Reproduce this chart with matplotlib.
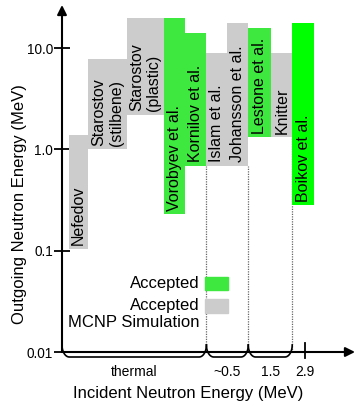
import numpy as np
import matplotlib
matplotlib.use("Agg")
import matplotlib.pyplot as plt
from matplotlib.patches import Rectangle
from matplotlib.transforms import blended_transform_factory

plt.rcParams["font.family"] = ["Liberation Sans", "DejaVu Sans"]

# ---------------------------------------------------------------------------
# data
# ---------------------------------------------------------------------------
studies = ["Nefedov", "Starostov\n(stilbene)", "Starostov\n(plastic)",
           "Vorobyev et al.", "Kornilov et al.", "Islam et al.",
           "Johansson et al.", "Lestone et al.", "Knitter", "Boikov et al."]
e_out_low = [0.105, 1.0, 2.2, 0.23, 0.69, 0.69, 0.69, 1.31, 1.31, 0.28]
e_out_high = [1.38, 7.8, 20.0, 20.0, 14.0, 8.9, 17.7, 15.7, 8.9, 17.7]
group = ["gray", "gray", "gray", "green", "green", "gray",
         "gray", "green", "gray", "mcnp"]

incident_labels = ["thermal", "~0.5", "1.5", "2.9"]
legend_labels = ["Accepted", "Accepted", "MCNP Simulation"]

# layout (notional x axis, no physical scale)
bar_edges = [0.35, 1.25, 3.1, 4.85, 5.9, 6.9, 7.9, 8.9, 10.0, 11.0, 12.05]
brace_spans = [(0.0, 6.9), (6.9, 8.9), (8.9, 11.0)]
tick_29 = 11.6

colors = {"gray": "#cccccc", "green": "#3ee83e", "mcnp": "#00ff00"}

fig = plt.figure(figsize=(3.59, 4.12), dpi=100)
ax = fig.add_axes([62 / 359, 60 / 412, 293 / 359, 347 / 412])
ax.set_yscale("log")
ax.set_xlim(0, 14)
ax.set_ylim(0.01, 10 ** 1.425)

left = np.array(bar_edges[:-1])
width = np.diff(bar_edges)
low = np.array(e_out_low)
high = np.array(e_out_high)
ax.bar(left, high - low, bottom=low, width=width, align="edge",
       color=[colors[g] for g in group], linewidth=0, zorder=2)

for x, w, lo, name in zip(left, width, low, studies):
    ax.annotate(name, (x + w / 2, lo), xytext=(0, 2.5), textcoords="offset points",
                rotation=90, ha="center", va="bottom", fontsize=11.5,
                multialignment="left", zorder=3)

# dotted separators between incident energy groups
ax.vlines([6.9, 8.9, 11.0], 0.01, [0.69, 0.69, 1.31], colors="#666666",
          linestyles=(0, (1, 1)), linewidth=0.9, zorder=1)

# axes drawn as arrows
for s in ax.spines.values():
    s.set_visible(False)
ax.annotate("", xy=(0, 1), xytext=(0, 0), xycoords="axes fraction",
            arrowprops=dict(arrowstyle="-|>", color="black", lw=1.5,
                            mutation_scale=14, shrinkA=0, shrinkB=0))
ax.annotate("", xy=(1, 0), xytext=(0, 0), xycoords="axes fraction",
            arrowprops=dict(arrowstyle="-|>", color="black", lw=1.5,
                            mutation_scale=14, shrinkA=0, shrinkB=0))

ax.set_yticks([0.01, 0.1, 1, 10])
ax.set_yticklabels(["0.01", "0.1", "1.0", "10.0"])
ax.yaxis.set_minor_locator(matplotlib.ticker.NullLocator())
ax.tick_params(axis="y", direction="inout", length=11, width=1.3, labelsize=9.8, pad=1)
ax.set_xticks([])

ax.set_ylabel("Outgoing Neutron Energy (MeV)", fontsize=12)
ax.set_xlabel("Incident Neutron Energy (MeV)", fontsize=12)
ax.yaxis.set_label_coords(-0.119, 0.4265)
ax.xaxis.set_label_coords(0.43, -0.098)

# braces under the x axis
trans = blended_transform_factory(ax.transData, ax.transAxes)
up, dn, r = 7 / 347, 5 / 347, 0.35
t = np.linspace(0, np.pi / 2, 20)
for a, b in brace_spans:
    xl = a + r * (1 - np.cos(t))
    yl = up - (up + dn) * np.sin(t)
    xs = np.concatenate([xl, (a + b - xl)[::-1]])
    ys = np.concatenate([yl, yl[::-1]])
    ax.plot(xs, ys, color="black", lw=1.2, transform=trans, clip_on=False)

ax.plot([tick_29, tick_29], [-6 / 347, 9 / 347], color="black", lw=1.3,
        transform=trans, clip_on=False)

label_x = [(a + b) / 2 for a, b in brace_spans] + [tick_29]
for x, lab in zip(label_x, incident_labels):
    ax.text(x, -20 / 347, lab, transform=trans, ha="center", va="center",
            fontsize=10)

# hand-made legend
fx = ax.transAxes
ax.add_patch(Rectangle((0.488, 0.179), 0.079, 0.037, transform=fx,
                       color=colors["green"], clip_on=False))
ax.add_patch(Rectangle((0.488, 0.112), 0.079, 0.041, transform=fx,
                       color=colors["gray"], clip_on=False))
for y, lab in zip([0.196, 0.133, 0.084], legend_labels):
    ax.text(0.468, y, lab, transform=fx, ha="right", va="center", fontsize=12)

fig.savefig("out.png", dpi=100)
